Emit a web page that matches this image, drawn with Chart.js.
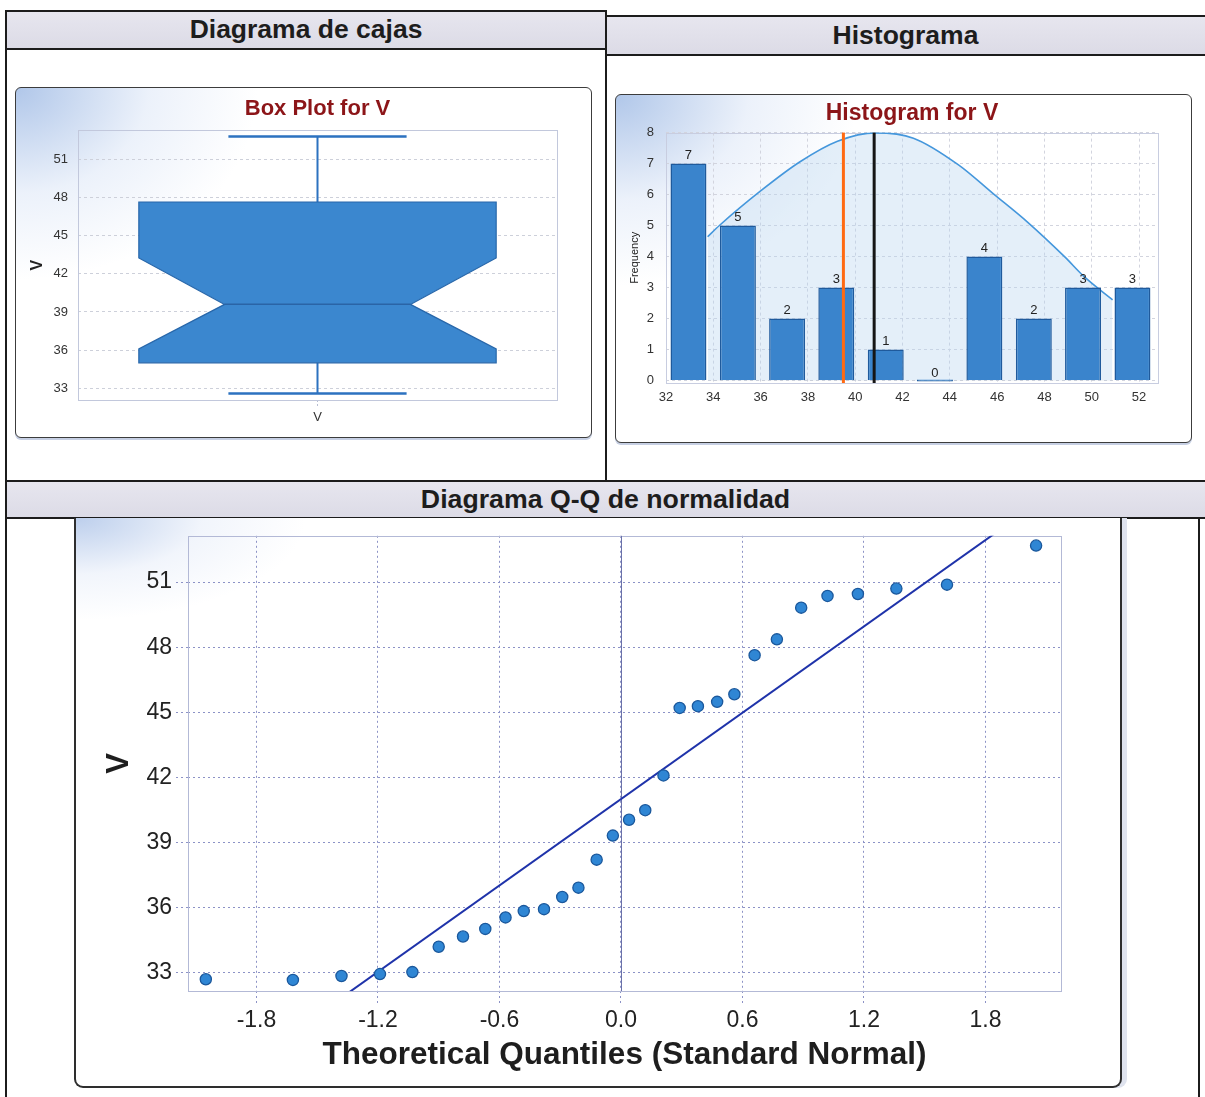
<!DOCTYPE html>
<html lang="es">
<head>
<meta charset="utf-8">
<title>Diagramas de V</title>
<script src="https://cdn.jsdelivr.net/npm/chart.js@4.4.1/dist/chart.umd.min.js"></script>
<style>
  html, body { margin: 0; padding: 0; background: #fff; }
  body { position: relative; width: 1205px; height: 1097px; overflow: hidden;
         font-family: "Liberation Sans", Arial, Helvetica, sans-serif; }
  .rule { position: absolute; background: #1c1c1c; }
  .head { position: absolute; display: flex; align-items: center; justify-content: center;
          font-weight: bold; color: #1d1d1d; background: linear-gradient(#e7e6ef, #dcdbe6); }
  .panel { position: absolute; box-sizing: border-box; border: 1.5px solid #3c3c3c; border-radius: 6px;
           background:
             radial-gradient(ellipse 42% 55% at 0% 0%, rgba(150,180,226,0.75), rgba(200,216,242,0.35) 55%, rgba(255,255,255,0) 100%),
             #fff;
           box-shadow: 0 2px 0 #c6cfe3; }
  .qq { border-top: none; border-width: 2px; border-color: #2e2e2e; border-radius: 0 0 9px 9px;
        background:
          radial-gradient(ellipse 22% 18% at 0% 0%, rgba(160,186,228,0.7), rgba(210,222,244,0.3) 55%, rgba(255,255,255,0) 100%),
          #fff;
        box-shadow: 5px 0 0 #dfe3ee; }
  canvas { position: absolute; }
</style>
</head>
<body>

<!-- section headers -->
<div class="head" style="left:6px;top:11px;width:600px;height:37px;font-size:26.5px;">Diagrama de cajas</div>
<div class="head" style="left:606px;top:16px;width:599px;height:38px;font-size:26.5px;">Histograma</div>
<div class="head" style="left:6px;top:481px;width:1199px;height:37px;font-size:26.7px;">Diagrama Q-Q de normalidad</div>

<!-- table rules -->
<div class="rule" style="left:6px;top:10px;width:600px;height:2px;"></div>
<div class="rule" style="left:606px;top:15px;width:599px;height:2px;"></div>
<div class="rule" style="left:6px;top:48px;width:600px;height:2px;"></div>
<div class="rule" style="left:606px;top:54px;width:599px;height:2px;"></div>
<div class="rule" style="left:605px;top:10px;width:2px;height:472px;"></div>
<div class="rule" style="left:5px;top:10px;width:2px;height:1087px;"></div>
<div class="rule" style="left:6px;top:480px;width:1199px;height:2px;"></div>
<div class="rule" style="left:6px;top:517px;width:1199px;height:2px;"></div>
<div class="rule" style="left:1198px;top:518px;width:2px;height:579px;"></div>

<!-- chart panels -->
<div class="panel" style="left:15px;top:87px;width:577px;height:351px;"></div>
<div class="panel" style="left:615px;top:94px;width:577px;height:349px;"></div>
<div class="panel qq" style="left:74px;top:518px;width:1048px;height:570px;"></div>

<canvas id="boxChart" width="577" height="351" style="left:15px;top:87px;"></canvas>
<canvas id="histChart" width="577" height="349" style="left:615px;top:94px;"></canvas>
<canvas id="qqChart" width="1048" height="570" style="left:74px;top:518px;"></canvas>

<script>
// ---- Box plot summary of V ----
const boxCategories = ['V'];
const boxMin = [32.6];
const boxQ1 = [35.0];
const boxNotchLow = [36.1];
const boxMedian = [39.6];
const boxNotchHigh = [43.25];
const boxQ3 = [47.65];
const boxMax = [52.8];
const boxTicks = [33, 36, 39, 42, 45, 48, 51];

// ---- Histogram of V ----
const histBinMids = [32.95, 35.04, 37.12, 39.20, 41.29, 43.37, 45.46, 47.55, 49.63, 51.72];
const histCounts = [7, 5, 2, 3, 1, 0, 4, 2, 3, 3];
const histXTicks = [32, 34, 36, 38, 40, 42, 44, 46, 48, 50, 52];
const histYTicks = [0, 1, 2, 3, 4, 5, 6, 7, 8];
// fitted normal curve, sampled along its length
const histCurveX = [33.76, 34.27, 36.04, 37.65, 39.25, 40.86, 42.46, 44.38, 45.83, 47.27, 48.87, 49.68, 50.88];
const histCurveY = [4.64, 5.01, 6.14, 7.05, 7.72, 7.99, 7.82, 6.95, 6.03, 5.12, 3.98, 3.35, 2.60];
const histMedian = 39.5;
const histMean = 40.8;

// ---- Normal Q-Q plot of V ----
const qqTheoretical = [-2.05, -1.62, -1.38, -1.19, -1.03, -0.90, -0.78, -0.67, -0.57, -0.48,
                       -0.38, -0.29, -0.21, -0.12, -0.04, 0.04, 0.12, 0.21, 0.29, 0.38,
                       0.475, 0.56, 0.66, 0.77, 0.89, 1.02, 1.17, 1.36, 1.61, 2.05];
const qqSample = [32.70, 32.67, 32.85, 32.94, 33.03, 34.20, 34.67, 35.02, 35.55, 35.84,
                  35.93, 36.49, 36.92, 38.21, 39.32, 40.05, 40.49, 42.09, 45.20, 45.28,
                  45.48, 45.83, 47.63, 48.36, 49.82, 50.36, 50.45, 50.70, 50.88, 52.68];
const qqLineIntercept = 41.0;
const qqLineSlope = 6.63;
const qqXTicks = [-1.8, -1.2, -0.6, 0.0, 0.6, 1.2, 1.8];
const qqYTicks = [33, 36, 39, 42, 45, 48, 51];

// ---- shared look ----
const SANS = '"Liberation Sans", Arial, Helvetica, sans-serif';
const NARROW = '"Liberation Sans Narrow", "Arial Narrow", "Liberation Sans", Arial, sans-serif';
Chart.defaults.font.family = SANS;

// outline of the plotting area
const framePlugin = {
  id: 'frame',
  beforeDatasetsDraw(chart, args, o) {
    const a = chart.chartArea, ctx = chart.ctx;
    ctx.save();
    ctx.strokeStyle = o.color;
    ctx.lineWidth = o.width;
    ctx.strokeRect(Math.round(a.left) + 0.5, Math.round(a.top) + 0.5,
                   Math.round(a.right - a.left), Math.round(a.bottom - a.top));
    ctx.restore();
  }
};

// notched box with whiskers, one per category
const notchedBoxPlugin = {
  id: 'notchedBox',
  afterDatasetsDraw(chart, args, o) {
    const { ctx, scales: { x, y } } = chart;
    const catW = x.width / boxCategories.length;
    const py = v => y.getPixelForValue(v);
    boxCategories.forEach((c, i) => {
      const cx = x.getPixelForValue(i);
      const hw = catW * o.boxWidth / 2;
      const nw = hw * o.notchRatio;
      const cw = catW * o.capWidth / 2;
      ctx.save();
      ctx.strokeStyle = o.whisker;
      ctx.lineWidth = 2;
      ctx.beginPath();
      ctx.moveTo(cx, py(boxQ3[i])); ctx.lineTo(cx, py(boxMax[i]));
      ctx.moveTo(cx, py(boxQ1[i])); ctx.lineTo(cx, py(boxMin[i]));
      ctx.stroke();
      ctx.lineWidth = 2.5;
      ctx.beginPath();
      ctx.moveTo(cx - cw, py(boxMax[i])); ctx.lineTo(cx + cw, py(boxMax[i]));
      ctx.moveTo(cx - cw, py(boxMin[i])); ctx.lineTo(cx + cw, py(boxMin[i]));
      ctx.stroke();

      ctx.beginPath();
      ctx.moveTo(cx - hw, py(boxQ3[i]));
      ctx.lineTo(cx + hw, py(boxQ3[i]));
      ctx.lineTo(cx + hw, py(boxNotchHigh[i]));
      ctx.lineTo(cx + nw, py(boxMedian[i]));
      ctx.lineTo(cx + hw, py(boxNotchLow[i]));
      ctx.lineTo(cx + hw, py(boxQ1[i]));
      ctx.lineTo(cx - hw, py(boxQ1[i]));
      ctx.lineTo(cx - hw, py(boxNotchLow[i]));
      ctx.lineTo(cx - nw, py(boxMedian[i]));
      ctx.lineTo(cx - hw, py(boxNotchHigh[i]));
      ctx.closePath();
      ctx.fillStyle = o.fill;
      ctx.fill();
      ctx.strokeStyle = o.edge;
      ctx.lineWidth = 1.2;
      ctx.stroke();

      ctx.beginPath();
      ctx.moveTo(cx - nw, py(boxMedian[i]));
      ctx.lineTo(cx + nw, py(boxMedian[i]));
      ctx.strokeStyle = o.medianColor;
      ctx.lineWidth = 1.5;
      ctx.stroke();
      ctx.restore();
    });
  }
};

// frequency written above each bar
const countLabelPlugin = {
  id: 'countLabels',
  afterDatasetsDraw(chart, args, o) {
    const ctx = chart.ctx;
    chart.data.datasets.forEach((ds, di) => {
      if (ds.type !== 'bar') return;
      const meta = chart.getDatasetMeta(di);
      meta.data.forEach((bar, i) => {
        ctx.save();
        ctx.font = o.font;
        ctx.fillStyle = o.color;
        ctx.textAlign = 'center';
        ctx.textBaseline = 'bottom';
        ctx.fillText(String(ds.data[i].y), bar.x, bar.y - 2);
        ctx.restore();
      });
    });
  }
};

// vertical reference lines (median, mean)
const markerPlugin = {
  id: 'markers',
  afterDatasetsDraw(chart, args, o) {
    const { ctx, chartArea: a, scales: { x } } = chart;
    o.lines.forEach(m => {
      const px = x.getPixelForValue(m.value);
      ctx.save();
      ctx.strokeStyle = m.color;
      ctx.lineWidth = m.width;
      ctx.beginPath();
      ctx.moveTo(px, a.bottom);
      ctx.lineTo(px, a.top);
      ctx.stroke();
      ctx.restore();
    });
  }
};

// solid line at x = 0
const zeroLinePlugin = {
  id: 'zeroLine',
  beforeDatasetsDraw(chart, args, o) {
    const { ctx, chartArea: a, scales: { x } } = chart;
    const px = Math.round(x.getPixelForValue(0)) + 0.5;
    ctx.save();
    ctx.strokeStyle = o.color;
    ctx.lineWidth = 1;
    ctx.beginPath();
    ctx.moveTo(px, a.top);
    ctx.lineTo(px, a.bottom);
    ctx.stroke();
    ctx.restore();
  }
};

const baseOptions = {
  responsive: false,
  animation: false,
  devicePixelRatio: 1,
  events: []
};

// ---------------- Box plot ----------------
new Chart(document.getElementById('boxChart'), {
  type: 'bar',
  data: { labels: boxCategories, datasets: [] },
  options: {
    ...baseOptions,
    layout: { padding: { left: 0, right: 35, top: 0, bottom: 0 } },
    plugins: {
      legend: { display: false },
      tooltip: { enabled: false },
      title: {
        display: true, fullSize: false, text: 'Box Plot for V', color: '#8c1518',
        font: { family: SANS, size: 22, weight: 'bold' }, padding: { top: 9, bottom: 8 }
      },
      frame: { color: '#c2c8dc', width: 1 },
      notchedBox: {
        boxWidth: 0.746, notchRatio: 0.52, capWidth: 0.372,
        fill: '#3b87cf', edge: '#2867aa', whisker: '#2c72c0', medianColor: '#2a64a6'
      }
    },
    scales: {
      x: {
        type: 'category', offset: true,
        afterFit: s => { s.height = 38; },
        grid: { offset: false, drawOnChartArea: false, drawTicks: true, tickLength: 8,
                tickColor: '#b7bdd2', tickBorderDash: [2, 2] },
        border: { display: false },
        ticks: { font: { family: NARROW, size: 13 }, color: '#333', padding: 2 }
      },
      y: {
        type: 'linear', min: 32.08, max: 53.28,
        afterFit: s => { s.width = 63; },
        afterBuildTicks: s => { s.ticks = boxTicks.map(v => ({ value: v })); },
        grid: { color: '#cdd0da', drawTicks: false },
        border: { display: false, dash: [3, 3] },
        ticks: { font: { family: NARROW, size: 13 }, color: '#333', padding: 10, autoSkip: false },
        title: { display: true, text: 'V', color: '#222',
                 font: { family: SANS, size: 16, weight: 'bold' }, padding: { top: 13, bottom: 0 } }
      }
    }
  },
  plugins: [framePlugin, notchedBoxPlugin]
});

// ---------------- Histogram ----------------
new Chart(document.getElementById('histChart'), {
  type: 'bar',
  data: {
    datasets: [
      {
        type: 'bar',
        data: histBinMids.map((m, i) => ({ x: m, y: histCounts[i] })),
        backgroundColor: '#3a84cc',
        borderColor: '#1f5a9c',
        borderWidth: 1.5,
        barPercentage: 0.76,
        categoryPercentage: 1,
        minBarLength: 2,
        order: 1
      },
      {
        type: 'line',
        data: histCurveX.map((v, i) => ({ x: v, y: histCurveY[i] })),
        borderColor: '#4597dc',
        borderWidth: 1.6,
        pointRadius: 0,
        cubicInterpolationMode: 'monotone',
        fill: { target: 'origin', above: 'rgba(185,212,240,0.38)' },
        order: 2
      }
    ]
  },
  options: {
    ...baseOptions,
    layout: { padding: { left: 0, right: 34, top: 0, bottom: 0 } },
    plugins: {
      legend: { display: false },
      tooltip: { enabled: false },
      title: {
        display: true, fullSize: false, text: 'Histogram for V', color: '#8c1518',
        font: { family: SANS, size: 23, weight: 'bold' }, padding: { top: 6, bottom: 5 }
      },
      frame: { color: '#c8cde0', width: 1 },
      countLabels: { font: '13px ' + NARROW, color: '#222' },
      markers: { lines: [
        { value: histMedian, color: '#ff6a12', width: 3 },
        { value: histMean, color: '#151515', width: 3 }
      ] }
    },
    scales: {
      x: {
        type: 'linear', min: 32, max: 52.8, offset: false,
        afterFit: s => { s.height = 60; },
        afterBuildTicks: s => { s.ticks = histXTicks.map(v => ({ value: v })); },
        grid: { offset: false, color: '#d2d4de', drawTicks: false },
        border: { display: false, dash: [3, 3] },
        ticks: { font: { family: NARROW, size: 13 }, color: '#333', padding: 7, autoSkip: false, maxRotation: 0 }
      },
      y: {
        type: 'linear', min: -0.08, max: 8,
        afterFit: s => { s.width = 51; },
        afterBuildTicks: s => { s.ticks = histYTicks.map(v => ({ value: v })); },
        grid: { color: '#d2d4de', drawTicks: false },
        border: { display: false, dash: [3, 3] },
        ticks: { font: { family: NARROW, size: 13 }, color: '#333', padding: 12, autoSkip: false },
        title: { display: true, text: 'Frequency', color: '#222',
                 font: { family: SANS, size: 11 }, padding: { top: 13, bottom: 0 } }
      }
    }
  },
  plugins: [framePlugin, countLabelPlugin, markerPlugin]
});

// ---------------- Normal Q-Q plot ----------------
const qqXMin = -2.138, qqXMax = 2.173;
new Chart(document.getElementById('qqChart'), {
  type: 'scatter',
  data: {
    datasets: [
      {
        data: qqTheoretical.map((q, i) => ({ x: q, y: qqSample[i] })),
        pointRadius: 5.6,
        pointBackgroundColor: '#2f86d4',
        pointBorderColor: '#1b589c',
        pointBorderWidth: 1.3,
        order: 1
      },
      {
        data: [qqXMin, qqXMax].map(q => ({ x: q, y: qqLineIntercept + qqLineSlope * q })),
        showLine: true,
        borderColor: '#1f33aa',
        borderWidth: 2,
        pointRadius: 0,
        clip: 0,
        order: 2
      }
    ]
  },
  options: {
    ...baseOptions,
    layout: { padding: { left: 0, right: 61, top: 14, bottom: 0 } },
    plugins: {
      legend: { display: false },
      tooltip: { enabled: false },
      frame: { color: '#b3b9d6', width: 1 },
      zeroLine: { color: '#6b72aa' }
    },
    scales: {
      x: {
        type: 'linear', min: qqXMin, max: qqXMax,
        afterFit: s => { s.height = 97; },
        afterBuildTicks: s => { s.ticks = qqXTicks.map(v => ({ value: v })); },
        grid: { color: '#8c92c6', tickLength: 13, tickColor: '#8c92c6', tickBorderDash: [2, 3] },
        border: { display: false, dash: [2, 3] },
        ticks: { font: { family: NARROW, size: 23 }, color: '#222', padding: 3,
                 autoSkip: false, maxRotation: 0, callback: v => Number(v).toFixed(1) },
        title: { display: true, text: 'Theoretical Quantiles (Standard Normal)', color: '#1e1e1e',
                 font: { family: SANS, size: 31.5, weight: 'bold' }, padding: { top: 0, bottom: 14 } }
      },
      y: {
        type: 'linear', min: 32.16, max: 53.13,
        afterFit: s => { s.width = 114; },
        afterBuildTicks: s => { s.ticks = qqYTicks.map(v => ({ value: v })); },
        grid: { color: '#8c92c6', tickLength: 12, tickColor: '#8c92c6', tickBorderDash: [2, 3] },
        border: { display: false, dash: [2, 3] },
        ticks: { font: { family: NARROW, size: 23 }, color: '#222', padding: 4, autoSkip: false },
        title: { display: true, text: 'V', color: '#1e1e1e',
                 font: { family: SANS, size: 31, weight: 'bold' }, padding: { top: 27, bottom: 0 } }
      }
    }
  },
  plugins: [framePlugin, zeroLinePlugin]
});
</script>
</body>
</html>
